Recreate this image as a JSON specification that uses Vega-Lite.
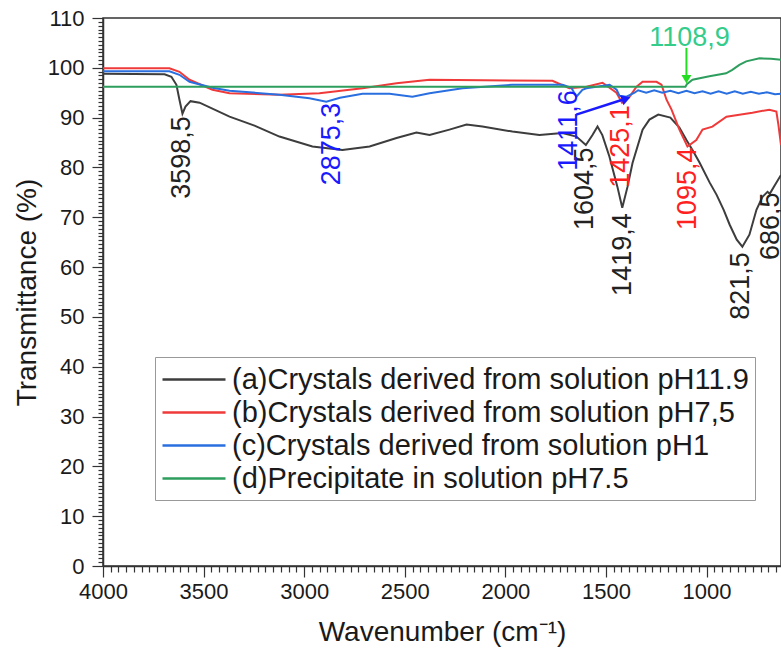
{
  "$schema": "https://vega.github.io/schema/vega-lite/v6.json",
  "width": 678,
  "height": 548,
  "autosize": {"type": "none"},
  "padding": {"left": 103, "top": 18, "right": 0, "bottom": 91},
  "background": "white",
  "config": {
    "font": "Liberation Sans",
    "view": {"stroke": "#333", "strokeWidth": 1.5},
    "axis": {"labelOverlap": false}
  },
  "datasets": {
    "spectra": [
      {"series": "(a)Crystals derived from solution pH11.9", "wn": 4000, "t": 98.8},
      {"series": "(a)Crystals derived from solution pH11.9", "wn": 3694, "t": 98.7},
      {"series": "(a)Crystals derived from solution pH11.9", "wn": 3660, "t": 98.2},
      {"series": "(a)Crystals derived from solution pH11.9", "wn": 3635, "t": 96.6},
      {"series": "(a)Crystals derived from solution pH11.9", "wn": 3620, "t": 93.6},
      {"series": "(a)Crystals derived from solution pH11.9", "wn": 3605, "t": 90.8},
      {"series": "(a)Crystals derived from solution pH11.9", "wn": 3590, "t": 92.2},
      {"series": "(a)Crystals derived from solution pH11.9", "wn": 3565, "t": 93.3},
      {"series": "(a)Crystals derived from solution pH11.9", "wn": 3520, "t": 93.0},
      {"series": "(a)Crystals derived from solution pH11.9", "wn": 3371, "t": 90.2},
      {"series": "(a)Crystals derived from solution pH11.9", "wn": 3247, "t": 88.4},
      {"series": "(a)Crystals derived from solution pH11.9", "wn": 3123, "t": 86.2},
      {"series": "(a)Crystals derived from solution pH11.9", "wn": 2959, "t": 84.2},
      {"series": "(a)Crystals derived from solution pH11.9", "wn": 2810, "t": 83.5},
      {"series": "(a)Crystals derived from solution pH11.9", "wn": 2675, "t": 84.2},
      {"series": "(a)Crystals derived from solution pH11.9", "wn": 2541, "t": 85.9},
      {"series": "(a)Crystals derived from solution pH11.9", "wn": 2442, "t": 87.0},
      {"series": "(a)Crystals derived from solution pH11.9", "wn": 2377, "t": 86.5},
      {"series": "(a)Crystals derived from solution pH11.9", "wn": 2278, "t": 87.6},
      {"series": "(a)Crystals derived from solution pH11.9", "wn": 2193, "t": 88.6},
      {"series": "(a)Crystals derived from solution pH11.9", "wn": 2114, "t": 88.2},
      {"series": "(a)Crystals derived from solution pH11.9", "wn": 1965, "t": 87.2},
      {"series": "(a)Crystals derived from solution pH11.9", "wn": 1831, "t": 86.5},
      {"series": "(a)Crystals derived from solution pH11.9", "wn": 1716, "t": 86.9},
      {"series": "(a)Crystals derived from solution pH11.9", "wn": 1647, "t": 86.2},
      {"series": "(a)Crystals derived from solution pH11.9", "wn": 1600, "t": 84.5},
      {"series": "(a)Crystals derived from solution pH11.9", "wn": 1567, "t": 86.5},
      {"series": "(a)Crystals derived from solution pH11.9", "wn": 1542, "t": 88.2},
      {"series": "(a)Crystals derived from solution pH11.9", "wn": 1518, "t": 86.5},
      {"series": "(a)Crystals derived from solution pH11.9", "wn": 1483, "t": 82.2},
      {"series": "(a)Crystals derived from solution pH11.9", "wn": 1443, "t": 76.1},
      {"series": "(a)Crystals derived from solution pH11.9", "wn": 1419, "t": 71.9},
      {"series": "(a)Crystals derived from solution pH11.9", "wn": 1393, "t": 76.1},
      {"series": "(a)Crystals derived from solution pH11.9", "wn": 1368, "t": 80.9},
      {"series": "(a)Crystals derived from solution pH11.9", "wn": 1318, "t": 87.6},
      {"series": "(a)Crystals derived from solution pH11.9", "wn": 1284, "t": 89.6},
      {"series": "(a)Crystals derived from solution pH11.9", "wn": 1240, "t": 90.6},
      {"series": "(a)Crystals derived from solution pH11.9", "wn": 1180, "t": 90.0},
      {"series": "(a)Crystals derived from solution pH11.9", "wn": 1135, "t": 88.0},
      {"series": "(a)Crystals derived from solution pH11.9", "wn": 1100, "t": 85.5},
      {"series": "(a)Crystals derived from solution pH11.9", "wn": 1070, "t": 83.5},
      {"series": "(a)Crystals derived from solution pH11.9", "wn": 1035, "t": 81.0},
      {"series": "(a)Crystals derived from solution pH11.9", "wn": 985, "t": 77.0},
      {"series": "(a)Crystals derived from solution pH11.9", "wn": 950, "t": 74.5},
      {"series": "(a)Crystals derived from solution pH11.9", "wn": 915, "t": 71.5},
      {"series": "(a)Crystals derived from solution pH11.9", "wn": 885, "t": 68.5},
      {"series": "(a)Crystals derived from solution pH11.9", "wn": 850, "t": 65.5},
      {"series": "(a)Crystals derived from solution pH11.9", "wn": 822, "t": 64.1},
      {"series": "(a)Crystals derived from solution pH11.9", "wn": 787, "t": 66.5},
      {"series": "(a)Crystals derived from solution pH11.9", "wn": 752, "t": 71.5},
      {"series": "(a)Crystals derived from solution pH11.9", "wn": 722, "t": 74.1},
      {"series": "(a)Crystals derived from solution pH11.9", "wn": 697, "t": 75.1},
      {"series": "(a)Crystals derived from solution pH11.9", "wn": 686, "t": 74.7},
      {"series": "(a)Crystals derived from solution pH11.9", "wn": 663, "t": 76.3},
      {"series": "(a)Crystals derived from solution pH11.9", "wn": 630, "t": 78.5},

      {"series": "(b)Crystals derived from solution pH7,5", "wn": 4000, "t": 99.9},
      {"series": "(b)Crystals derived from solution pH7,5", "wn": 3670, "t": 99.9},
      {"series": "(b)Crystals derived from solution pH7,5", "wn": 3620, "t": 99.2},
      {"series": "(b)Crystals derived from solution pH7,5", "wn": 3570, "t": 97.6},
      {"series": "(b)Crystals derived from solution pH7,5", "wn": 3456, "t": 95.6},
      {"series": "(b)Crystals derived from solution pH7,5", "wn": 3371, "t": 94.9},
      {"series": "(b)Crystals derived from solution pH7,5", "wn": 3123, "t": 94.6},
      {"series": "(b)Crystals derived from solution pH7,5", "wn": 2924, "t": 94.9},
      {"series": "(b)Crystals derived from solution pH7,5", "wn": 2710, "t": 95.9},
      {"series": "(b)Crystals derived from solution pH7,5", "wn": 2541, "t": 96.9},
      {"series": "(b)Crystals derived from solution pH7,5", "wn": 2377, "t": 97.6},
      {"series": "(b)Crystals derived from solution pH7,5", "wn": 1766, "t": 97.4},
      {"series": "(b)Crystals derived from solution pH7,5", "wn": 1682, "t": 95.9},
      {"series": "(b)Crystals derived from solution pH7,5", "wn": 1597, "t": 96.2},
      {"series": "(b)Crystals derived from solution pH7,5", "wn": 1517, "t": 97.0},
      {"series": "(b)Crystals derived from solution pH7,5", "wn": 1448, "t": 95.0},
      {"series": "(b)Crystals derived from solution pH7,5", "wn": 1420, "t": 93.0},
      {"series": "(b)Crystals derived from solution pH7,5", "wn": 1383, "t": 94.2},
      {"series": "(b)Crystals derived from solution pH7,5", "wn": 1348, "t": 96.2},
      {"series": "(b)Crystals derived from solution pH7,5", "wn": 1318, "t": 97.2},
      {"series": "(b)Crystals derived from solution pH7,5", "wn": 1249, "t": 97.2},
      {"series": "(b)Crystals derived from solution pH7,5", "wn": 1224, "t": 96.6},
      {"series": "(b)Crystals derived from solution pH7,5", "wn": 1199, "t": 93.6},
      {"series": "(b)Crystals derived from solution pH7,5", "wn": 1174, "t": 91.6},
      {"series": "(b)Crystals derived from solution pH7,5", "wn": 1135, "t": 87.6},
      {"series": "(b)Crystals derived from solution pH7,5", "wn": 1095, "t": 84.2},
      {"series": "(b)Crystals derived from solution pH7,5", "wn": 1051, "t": 85.5},
      {"series": "(b)Crystals derived from solution pH7,5", "wn": 1020, "t": 87.6},
      {"series": "(b)Crystals derived from solution pH7,5", "wn": 971, "t": 88.2},
      {"series": "(b)Crystals derived from solution pH7,5", "wn": 901, "t": 90.2},
      {"series": "(b)Crystals derived from solution pH7,5", "wn": 837, "t": 90.6},
      {"series": "(b)Crystals derived from solution pH7,5", "wn": 772, "t": 91.0},
      {"series": "(b)Crystals derived from solution pH7,5", "wn": 688, "t": 91.6},
      {"series": "(b)Crystals derived from solution pH7,5", "wn": 653, "t": 91.2},
      {"series": "(b)Crystals derived from solution pH7,5", "wn": 643, "t": 88.6},
      {"series": "(b)Crystals derived from solution pH7,5", "wn": 630, "t": 84.5},

      {"series": "(c)Crystals derived from solution pH1", "wn": 4000, "t": 99.3},
      {"series": "(c)Crystals derived from solution pH1", "wn": 3670, "t": 99.3},
      {"series": "(c)Crystals derived from solution pH1", "wn": 3620, "t": 98.6},
      {"series": "(c)Crystals derived from solution pH1", "wn": 3570, "t": 97.2},
      {"series": "(c)Crystals derived from solution pH1", "wn": 3456, "t": 96.0},
      {"series": "(c)Crystals derived from solution pH1", "wn": 3371, "t": 95.4},
      {"series": "(c)Crystals derived from solution pH1", "wn": 3123, "t": 94.6},
      {"series": "(c)Crystals derived from solution pH1", "wn": 2974, "t": 93.9},
      {"series": "(c)Crystals derived from solution pH1", "wn": 2890, "t": 93.2},
      {"series": "(c)Crystals derived from solution pH1", "wn": 2822, "t": 94.0},
      {"series": "(c)Crystals derived from solution pH1", "wn": 2710, "t": 94.8},
      {"series": "(c)Crystals derived from solution pH1", "wn": 2576, "t": 94.8},
      {"series": "(c)Crystals derived from solution pH1", "wn": 2462, "t": 94.2},
      {"series": "(c)Crystals derived from solution pH1", "wn": 2377, "t": 94.9},
      {"series": "(c)Crystals derived from solution pH1", "wn": 2213, "t": 95.9},
      {"series": "(c)Crystals derived from solution pH1", "wn": 1965, "t": 96.6},
      {"series": "(c)Crystals derived from solution pH1", "wn": 1716, "t": 96.6},
      {"series": "(c)Crystals derived from solution pH1", "wn": 1672, "t": 96.0},
      {"series": "(c)Crystals derived from solution pH1", "wn": 1647, "t": 94.2},
      {"series": "(c)Crystals derived from solution pH1", "wn": 1617, "t": 95.6},
      {"series": "(c)Crystals derived from solution pH1", "wn": 1597, "t": 95.9},
      {"series": "(c)Crystals derived from solution pH1", "wn": 1482, "t": 96.6},
      {"series": "(c)Crystals derived from solution pH1", "wn": 1447, "t": 95.6},
      {"series": "(c)Crystals derived from solution pH1", "wn": 1433, "t": 94.4},
      {"series": "(c)Crystals derived from solution pH1", "wn": 1398, "t": 94.2},
      {"series": "(c)Crystals derived from solution pH1", "wn": 1358, "t": 95.0},
      {"series": "(c)Crystals derived from solution pH1", "wn": 1340, "t": 95.5},
      {"series": "(c)Crystals derived from solution pH1", "wn": 1300, "t": 95.0},
      {"series": "(c)Crystals derived from solution pH1", "wn": 1260, "t": 95.5},
      {"series": "(c)Crystals derived from solution pH1", "wn": 1220, "t": 95.0},
      {"series": "(c)Crystals derived from solution pH1", "wn": 1180, "t": 95.4},
      {"series": "(c)Crystals derived from solution pH1", "wn": 1140, "t": 94.9},
      {"series": "(c)Crystals derived from solution pH1", "wn": 1100, "t": 95.4},
      {"series": "(c)Crystals derived from solution pH1", "wn": 1060, "t": 94.9},
      {"series": "(c)Crystals derived from solution pH1", "wn": 1020, "t": 95.3},
      {"series": "(c)Crystals derived from solution pH1", "wn": 980, "t": 94.8},
      {"series": "(c)Crystals derived from solution pH1", "wn": 940, "t": 95.3},
      {"series": "(c)Crystals derived from solution pH1", "wn": 900, "t": 94.8},
      {"series": "(c)Crystals derived from solution pH1", "wn": 860, "t": 95.3},
      {"series": "(c)Crystals derived from solution pH1", "wn": 820, "t": 94.8},
      {"series": "(c)Crystals derived from solution pH1", "wn": 780, "t": 95.2},
      {"series": "(c)Crystals derived from solution pH1", "wn": 740, "t": 94.8},
      {"series": "(c)Crystals derived from solution pH1", "wn": 700, "t": 95.1},
      {"series": "(c)Crystals derived from solution pH1", "wn": 660, "t": 94.7},
      {"series": "(c)Crystals derived from solution pH1", "wn": 630, "t": 94.8},

      {"series": "(d)Precipitate in solution pH7.5", "wn": 4000, "t": 96.2},
      {"series": "(d)Precipitate in solution pH7.5", "wn": 1105, "t": 96.2},
      {"series": "(d)Precipitate in solution pH7.5", "wn": 1098, "t": 96.7},
      {"series": "(d)Precipitate in solution pH7.5", "wn": 1070, "t": 97.6},
      {"series": "(d)Precipitate in solution pH7.5", "wn": 986, "t": 98.3},
      {"series": "(d)Precipitate in solution pH7.5", "wn": 903, "t": 98.9},
      {"series": "(d)Precipitate in solution pH7.5", "wn": 872, "t": 99.6},
      {"series": "(d)Precipitate in solution pH7.5", "wn": 837, "t": 100.6},
      {"series": "(d)Precipitate in solution pH7.5", "wn": 803, "t": 101.3},
      {"series": "(d)Precipitate in solution pH7.5", "wn": 737, "t": 101.9},
      {"series": "(d)Precipitate in solution pH7.5", "wn": 680, "t": 101.8},
      {"series": "(d)Precipitate in solution pH7.5", "wn": 630, "t": 101.6}
    ],
    "peaks": [
      {"s": "a", "label": "3598,5", "wn": 3608, "t": 90.3},
      {"s": "c", "label": "2875,3", "wn": 2860, "t": 93.0},
      {"s": "a", "label": "1604,5", "wn": 1605, "t": 84.0},
      {"s": "c", "label": "1411,6", "wn": 1682, "t": 95.5},
      {"s": "b", "label": "1425,1", "wn": 1423, "t": 92.5},
      {"s": "a", "label": "1419,4", "wn": 1413, "t": 70.8},
      {"s": "b", "label": "1095,4", "wn": 1090, "t": 84.0},
      {"s": "a", "label": "821,5", "wn": 828, "t": 63.0},
      {"s": "a", "label": "686,5", "wn": 678, "t": 75.0},
      {"s": "d", "label": "1108,9", "wn": 1085, "t": 106.0}
    ],
    "arrows": [
      {"s": "c", "wn": 1648, "t": 90.6, "wn2": 1395, "t2": 93.9},
      {"s": "d", "wn": 1100, "t": 104.0, "wn2": 1100, "t2": 98.5}
    ],
    "heads": [
      {"s": "c", "wn": 1400, "t": 93.8},
      {"s": "d", "wn": 1100, "t": 97.7}
    ]
  },
  "layer": [
    {
      "data": {"name": "spectra"},
      "mark": {"type": "line", "strokeWidth": 2, "clip": true},
      "encoding": {
        "x": {
          "field": "wn", "type": "quantitative",
          "scale": {"domain": [4000, 630], "nice": false, "zero": false},
          "axis": {
            "title": "Wavenumber (cm⁻¹)",
            "tickCount": 1000,
            "tickMinStep": 0.01,
            "values": [4000, 3961.54, 3923.08, 3884.62, 3846.15, 3807.69, 3769.23, 3730.77, 3692.31, 3653.85, 3615.38, 3576.92, 3538.46,
                       3500, 3461.54, 3423.08, 3384.62, 3346.15, 3307.69, 3269.23, 3230.77, 3192.31, 3153.85, 3115.38, 3076.92, 3038.46,
                       3000, 2961.54, 2923.08, 2884.62, 2846.15, 2807.69, 2769.23, 2730.77, 2692.31, 2653.85, 2615.38, 2576.92, 2538.46,
                       2500, 2461.54, 2423.08, 2384.62, 2346.15, 2307.69, 2269.23, 2230.77, 2192.31, 2153.85, 2115.38, 2076.92, 2038.46,
                       2000, 1961.54, 1923.08, 1884.62, 1846.15, 1807.69, 1769.23, 1730.77, 1692.31, 1653.85, 1615.38, 1576.92, 1538.46,
                       1500, 1461.54, 1423.08, 1384.62, 1346.15, 1307.69, 1269.23, 1230.77, 1192.31, 1153.85, 1115.38, 1076.92, 1038.46,
                       1000, 961.54, 923.08, 884.62, 846.15, 807.69, 769.23, 730.77, 692.31, 653.85],
            "labelExpr": "datum.value % 500 === 0 ? datum.label : ''",
            "format": "d",
            "tickSize": {"condition": {"test": "datum.value % 500 === 0", "value": 11}, "value": 6},
            "labelFontSize": {"condition": {"test": "datum.value % 500 === 0", "value": 22}, "value": 0},
            "tickColor": "#333",
            "tickWidth": 1.2,
            "domainColor": "#333",
            "domainWidth": 1.5,
            "labelColor": "#1a1a1a",
            "labelPadding": 4,
            "labelOverlap": false,
            "labelFlush": false,
            "labelBound": false,
            "titleFontSize": 28,
            "titleFontWeight": "normal",
            "titleColor": "#1a1a1a",
            "titlePadding": 16,
            "grid": false
          }
        },
        "y": {
          "field": "t", "type": "quantitative",
          "scale": {"domain": [0, 110], "nice": false, "zero": false},
          "axis": {
            "title": "Transmittance (%)",
            "tickCount": 1000,
            "tickMinStep": 0.01,
            "values": [0, 0.77, 1.54, 2.31, 3.08, 3.85, 4.62, 5.38, 6.15, 6.92, 7.69, 8.46, 9.23,
                       10, 10.77, 11.54, 12.31, 13.08, 13.85, 14.62, 15.38, 16.15, 16.92, 17.69, 18.46, 19.23,
                       20, 20.77, 21.54, 22.31, 23.08, 23.85, 24.62, 25.38, 26.15, 26.92, 27.69, 28.46, 29.23,
                       30, 30.77, 31.54, 32.31, 33.08, 33.85, 34.62, 35.38, 36.15, 36.92, 37.69, 38.46, 39.23,
                       40, 40.77, 41.54, 42.31, 43.08, 43.85, 44.62, 45.38, 46.15, 46.92, 47.69, 48.46, 49.23,
                       50, 50.77, 51.54, 52.31, 53.08, 53.85, 54.62, 55.38, 56.15, 56.92, 57.69, 58.46, 59.23,
                       60, 60.77, 61.54, 62.31, 63.08, 63.85, 64.62, 65.38, 66.15, 66.92, 67.69, 68.46, 69.23,
                       70, 70.77, 71.54, 72.31, 73.08, 73.85, 74.62, 75.38, 76.15, 76.92, 77.69, 78.46, 79.23,
                       80, 80.77, 81.54, 82.31, 83.08, 83.85, 84.62, 85.38, 86.15, 86.92, 87.69, 88.46, 89.23,
                       90, 90.77, 91.54, 92.31, 93.08, 93.85, 94.62, 95.38, 96.15, 96.92, 97.69, 98.46, 99.23,
                       100, 100.77, 101.54, 102.31, 103.08, 103.85, 104.62, 105.38, 106.15, 106.92, 107.69, 108.46, 109.23,
                       110],
            "labelExpr": "datum.value % 10 === 0 ? datum.label : ''",
            "format": "d",
            "tickSize": {"condition": {"test": "datum.value % 10 === 0", "value": 11}, "value": 5},
            "labelFontSize": {"condition": {"test": "datum.value % 10 === 0", "value": 22}, "value": 0},
            "tickColor": "#333",
            "tickWidth": 1.2,
            "domainColor": "#333",
            "domainWidth": 1.5,
            "labelColor": "#1a1a1a",
            "labelPadding": 8,
            "labelOverlap": false,
            "labelFlush": false,
            "labelBound": false,
            "titleFontSize": 28,
            "titleFontWeight": "normal",
            "titleColor": "#1a1a1a",
            "titlePadding": 6,
            "grid": false
          }
        },
        "color": {
          "field": "series", "type": "nominal",
          "scale": {
            "domain": ["(a)Crystals derived from solution pH11.9", "(b)Crystals derived from solution pH7,5", "(c)Crystals derived from solution pH1", "(d)Precipitate in solution pH7.5"],
            "range": ["#3d3d3d", "#f03a3a", "#2a6fe0", "#2e9e5e"]
          },
          "legend": {
            "title": null,
            "orient": "none",
            "legendX": 52,
            "legendY": 339,
            "strokeColor": "#999",
            "fillColor": "white",
            "padding": 6,
            "labelFontSize": 29,
            "labelColor": "#1a1a1a",
            "labelLimit": 0,
            "labelOffset": 38,
            "symbolType": "M-1,0H3.2",
            "symbolSize": 900,
            "symbolStrokeWidth": 2.5,
            "rowPadding": 1
          }
        }
      }
    },
    {
      "data": {"name": "arrows"},
      "transform": [{"filter": "datum.s === 'c'"}],
      "mark": {"type": "rule", "color": "#1a1aff", "strokeWidth": 2.5},
      "encoding": {
        "x": {"field": "wn", "type": "quantitative"},
        "y": {"field": "t", "type": "quantitative"},
        "x2": {"field": "wn2"},
        "y2": {"field": "t2"}
      }
    },
    {
      "data": {"name": "arrows"},
      "transform": [{"filter": "datum.s === 'd'"}],
      "mark": {"type": "rule", "color": "#22dd22", "strokeWidth": 2},
      "encoding": {
        "x": {"field": "wn", "type": "quantitative"},
        "y": {"field": "t", "type": "quantitative"},
        "x2": {"field": "wn2"},
        "y2": {"field": "t2"}
      }
    },
    {
      "data": {"name": "heads"},
      "transform": [{"filter": "datum.s === 'c'"}],
      "mark": {"type": "point", "shape": "triangle-right", "filled": true, "color": "#1a1aff", "size": 110, "angle": -19, "opacity": 1},
      "encoding": {
        "x": {"field": "wn", "type": "quantitative"},
        "y": {"field": "t", "type": "quantitative"}
      }
    },
    {
      "data": {"name": "heads"},
      "transform": [{"filter": "datum.s === 'd'"}],
      "mark": {"type": "point", "shape": "triangle-down", "filled": true, "color": "#22dd22", "size": 100, "opacity": 1},
      "encoding": {
        "x": {"field": "wn", "type": "quantitative"},
        "y": {"field": "t", "type": "quantitative"}
      }
    },
    {
      "data": {"name": "peaks"},
      "transform": [{"filter": "datum.s === 'a'"}],
      "mark": {"type": "text", "angle": 270, "align": "right", "baseline": "middle", "fontSize": 27, "color": "#222222"},
      "encoding": {
        "x": {"field": "wn", "type": "quantitative"},
        "y": {"field": "t", "type": "quantitative"},
        "text": {"field": "label"}
      }
    },
    {
      "data": {"name": "peaks"},
      "transform": [{"filter": "datum.s === 'b'"}],
      "mark": {"type": "text", "angle": 270, "align": "right", "baseline": "middle", "fontSize": 27, "color": "#ff2020"},
      "encoding": {
        "x": {"field": "wn", "type": "quantitative"},
        "y": {"field": "t", "type": "quantitative"},
        "text": {"field": "label"}
      }
    },
    {
      "data": {"name": "peaks"},
      "transform": [{"filter": "datum.s === 'c'"}],
      "mark": {"type": "text", "angle": 270, "align": "right", "baseline": "middle", "fontSize": 27, "color": "#1a1aff"},
      "encoding": {
        "x": {"field": "wn", "type": "quantitative"},
        "y": {"field": "t", "type": "quantitative"},
        "text": {"field": "label"}
      }
    },
    {
      "data": {"name": "peaks"},
      "transform": [{"filter": "datum.s === 'd'"}],
      "mark": {"type": "text", "align": "center", "baseline": "middle", "fontSize": 27, "color": "#33cc8a"},
      "encoding": {
        "x": {"field": "wn", "type": "quantitative"},
        "y": {"field": "t", "type": "quantitative"},
        "text": {"field": "label"}
      }
    }
  ]
}
